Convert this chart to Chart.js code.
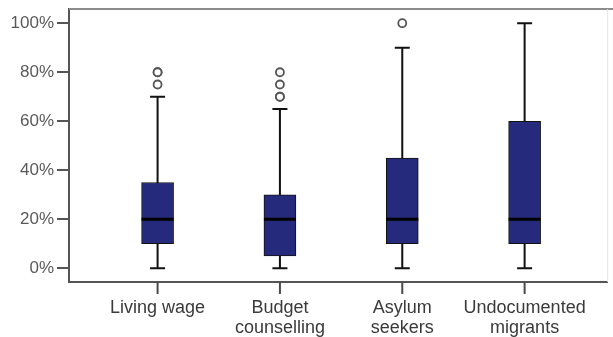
<!DOCTYPE html>
<html>
<head>
<meta charset="utf-8">
<script src="https://cdn.jsdelivr.net/npm/chart.js@4.4.1/dist/chart.umd.min.js"></script>
<style>
  html, body { margin: 0; padding: 0; background: #fff; }
  #wrap { width: 613px; height: 337px; }
</style>
</head>
<body>
<div id="wrap"><canvas id="c" width="613" height="337"></canvas></div>
<script>
// Categories (multi-line labels under the x axis)
const categories = [['Living wage'], ['Budget', 'counselling'], ['Asylum', 'seekers'], ['Undocumented', 'migrants']];

// Five-number summaries per category (percent)
const whiskerLow = [0, 0, 0, 0];
const q1 = [10, 5, 10, 10];
const median = [20, 20, 20, 20];
const q3 = [35, 30, 45, 60];
const whiskerHigh = [70, 65, 90, 100];

// Outliers: [category index, value]
const outliers = [[0, 75], [0, 80], [0, 80], [1, 70], [1, 70], [1, 75], [1, 80], [2, 100]];

// Y axis tick values
const yTicks = [0, 20, 40, 60, 80, 100];

const boxFill = '#262a7d';
const capHalf = 7.5;
const axisColor = '#555';

const boxData = categories.map((_, i) => ({ x: i, y: [q1[i], q3[i]] }));
const outlierData = outliers.map(([i, v]) => ({ x: i, y: v }));

// Whiskers behind the boxes; medians on top of them
const boxplotExtras = {
  id: 'boxplotExtras',
  beforeDatasetsDraw(chart) {
    const { ctx, scales: { x, y } } = chart;
    ctx.save();
    ctx.strokeStyle = '#111';
    ctx.lineWidth = 2;
    categories.forEach((_, i) => {
      const cx = x.getPixelForValue(i);
      const yl = y.getPixelForValue(whiskerLow[i]);
      const yh = y.getPixelForValue(whiskerHigh[i]);
      ctx.beginPath();
      ctx.moveTo(cx, yh); ctx.lineTo(cx, yl);
      ctx.moveTo(cx - capHalf, yh); ctx.lineTo(cx + capHalf, yh);
      ctx.moveTo(cx - capHalf, yl); ctx.lineTo(cx + capHalf, yl);
      ctx.stroke();
    });
    ctx.restore();
  },
  afterDatasetsDraw(chart) {
    const { ctx, scales: { y } } = chart;
    const meta = chart.getDatasetMeta(0);
    ctx.save();
    ctx.strokeStyle = '#000';
    ctx.lineWidth = 3;
    meta.data.forEach((bar, i) => {
      const half = bar.width / 2;
      const ym = y.getPixelForValue(median[i]);
      ctx.beginPath();
      ctx.moveTo(bar.x - half, ym);
      ctx.lineTo(bar.x + half, ym);
      ctx.stroke();
    });
    ctx.restore();
  },
  // category tick marks below the x axis, then top and right frame
  afterDraw(chart) {
    const { ctx, chartArea, scales: { x } } = chart;
    ctx.save();
    ctx.fillStyle = '#4a4a4a';
    categories.forEach((_, i) => {
      const cx = x.getPixelForValue(i);
      ctx.fillRect(cx - 1, x.top, 2, 12);
    });
    ctx.fillStyle = '#8c8c8c';
    ctx.fillRect(chartArea.left, chartArea.top - 1, chart.width - chartArea.left, 2);
    ctx.fillStyle = '#e4e4e4';
    ctx.fillRect(chartArea.right, chartArea.top, 1, chartArea.bottom - chartArea.top);
    ctx.restore();
  }
};

const noPad = (axis) => {
  axis.paddingTop = 0; axis.paddingBottom = 0;
  axis.paddingLeft = 0; axis.paddingRight = 0;
};

new Chart(document.getElementById('c'), {
  type: 'bar',
  data: {
    datasets: [
      {
        type: 'bar',
        data: boxData,
        backgroundColor: boxFill,
        borderColor: '#111',
        borderWidth: 1,
        borderSkipped: false,
        barThickness: 32,
        order: 2
      },
      {
        type: 'scatter',
        data: outlierData,
        pointStyle: 'circle',
        pointRadius: 4,
        pointBackgroundColor: '#fff',
        pointBorderColor: '#555',
        pointBorderWidth: 1.8,
        order: 1
      }
    ]
  },
  options: {
    responsive: false,
    animation: false,
    events: [],
    layout: { padding: { top: 9, right: 3, left: 0, bottom: 0 } },
    plugins: { legend: { display: false }, tooltip: { enabled: false } },
    scales: {
      x: {
        type: 'linear',
        min: -0.724,
        max: 3.675,
        offset: false,
        afterBuildTicks(axis) { axis.ticks = categories.map((_, i) => ({ value: i })); },
        afterFit(axis) { axis.height = 55; noPad(axis); },
        ticks: {
          autoSkip: false,
          maxRotation: 0,
          padding: 5,
          color: '#3a3a3a',
          font: { family: 'Liberation Sans, Arial, sans-serif', size: 18, lineHeight: 1.11 },
          callback: (v) => categories[v]
        },
        grid: { offset: false, drawOnChartArea: false, drawTicks: true, tickLength: 11, color: 'rgba(0,0,0,0)' },
        border: { display: true, color: axisColor, width: 2 }
      },
      y: {
        type: 'linear',
        min: -5.6,
        max: 105.8,
        afterBuildTicks(axis) { axis.ticks = yTicks.map(v => ({ value: v })); },
        afterFit(axis) { axis.width = 69; noPad(axis); },
        ticks: {
          padding: 3,
          color: '#5a5a5a',
          font: { family: 'Liberation Sans, Arial, sans-serif', size: 17 },
          callback: (v) => v + '%'
        },
        grid: { drawOnChartArea: false, drawTicks: true, tickLength: 12, color: axisColor, lineWidth: 2 },
        border: { display: true, color: axisColor, width: 2 }
      }
    }
  },
  plugins: [boxplotExtras]
});
</script>
</body>
</html>
